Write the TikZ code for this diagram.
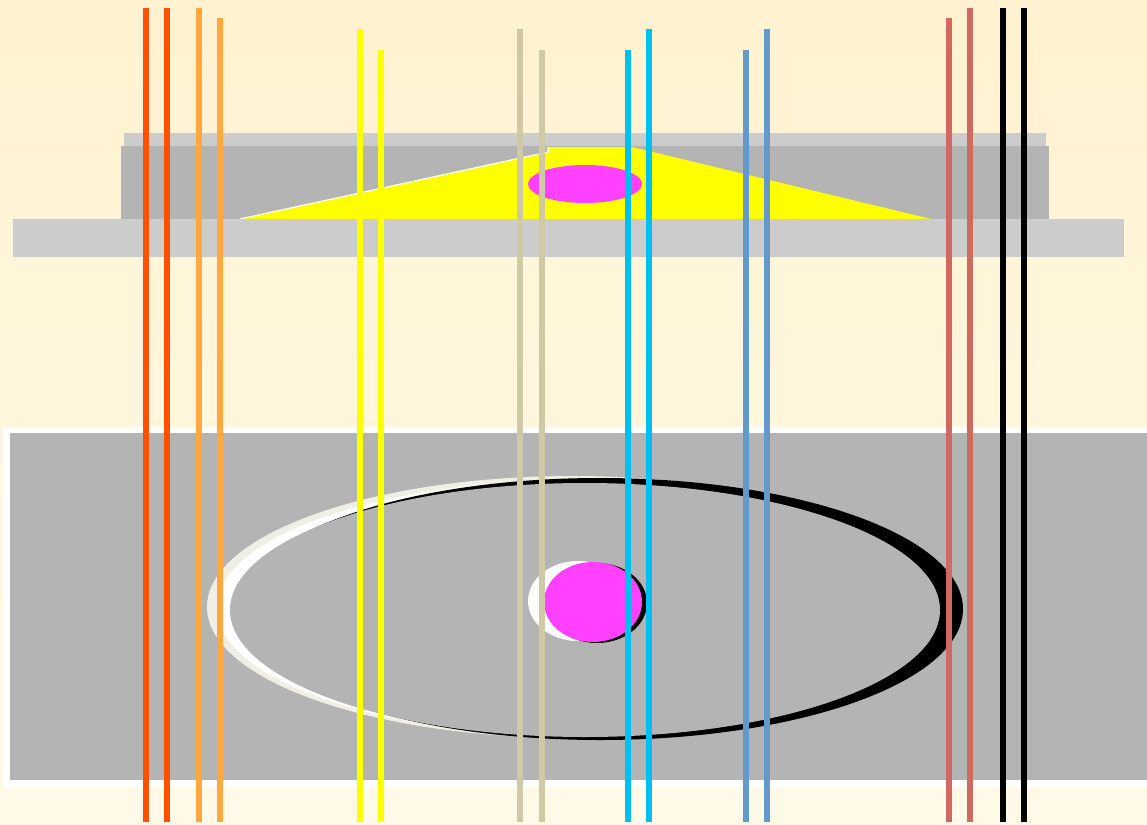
\documentclass[tikz,border=0pt]{standalone}
\usepackage{tikz}
\usepackage{xcolor}

\definecolor{bgtop}{HTML}{FFF2D0}
\definecolor{bgbot}{HTML}{FFFAE8}
\definecolor{barlight}{HTML}{CCCCCC}
\definecolor{bardark}{HTML}{B4B4B4}
\definecolor{hotpink}{HTML}{FF40FF}
\definecolor{ivoryrim}{HTML}{EFEFE6}
\definecolor{pureyellow}{HTML}{FFFF00}
\definecolor{redorange}{HTML}{FF5000}
\definecolor{lightorange}{HTML}{FFA840}
\definecolor{tanrod}{HTML}{CFC9A5}
\definecolor{skyrod}{HTML}{00C0F0}
\definecolor{steelrod}{HTML}{6399CB}
\definecolor{salmonrod}{HTML}{D06A60}

\begin{document}
\begin{tikzpicture}[x=1pt,y=-1pt,rod/.style={line width=6.2pt}]
\useasboundingbox (0,0) rectangle (1147,824);
% background
\shade[top color=bgtop,bottom color=bgbot] (0,0) rectangle (1147,824);
% upper plate
\fill[barlight] (124,133) rectangle (1046,147);
\fill[bardark] (121,146) rectangle (1049,219);
\fill[pureyellow] (240,219) -- (548,152) -- (548,147) -- (632,147) -- (931,219) -- cycle;
\draw[white,line width=1.2pt] (240,219) -- (548,152) -- (548,147);
\fill[hotpink] (585,184) ellipse [x radius=57pt,y radius=19pt];
\fill[barlight] (13,219) rectangle (1124,257);
% lower plate
\fill[white] (3,427) rectangle (1160,787);
\fill[bardark] (10,433) rectangle (1160,780);
% ring
\fill[ivoryrim] (573,607) ellipse [x radius=366pt,y radius=131pt];
\fill[white] (578,608) ellipse [x radius=361pt,y radius=128pt];
\fill[black] (600,609) ellipse [x radius=363pt,y radius=131pt];
\fill[bardark] (585,610) ellipse [x radius=355pt,y radius=127pt];
% hub
\fill[white] (578,601) ellipse [x radius=50pt,y radius=40pt];
\fill[black] (597,603) ellipse [x radius=50pt,y radius=40pt];
\fill[hotpink] (593,602) ellipse [x radius=49pt,y radius=40pt];
% rods
\draw[rod,redorange] (146,8) -- (146,822);
\draw[rod,redorange] (167,8) -- (167,822);
\draw[rod,lightorange] (199,8) -- (199,822);
\draw[rod,lightorange] (220,18) -- (220,822);
\draw[rod,pureyellow] (360,29) -- (360,822);
\draw[rod,pureyellow] (381,50) -- (381,822);
\draw[rod,tanrod] (520,29) -- (520,822);
\draw[rod,tanrod] (542,50) -- (542,822);
\draw[rod,skyrod] (628,50) -- (628,822);
\draw[rod,skyrod] (649,29) -- (649,822);
\draw[rod,steelrod] (746,50) -- (746,822);
\draw[rod,steelrod] (767,29) -- (767,822);
\draw[rod,salmonrod] (949,18) -- (949,822);
\draw[rod,salmonrod] (970,8) -- (970,822);
\draw[rod,black] (1003,8) -- (1003,822);
\draw[rod,black] (1024,8) -- (1024,822);
\end{tikzpicture}
\end{document}
